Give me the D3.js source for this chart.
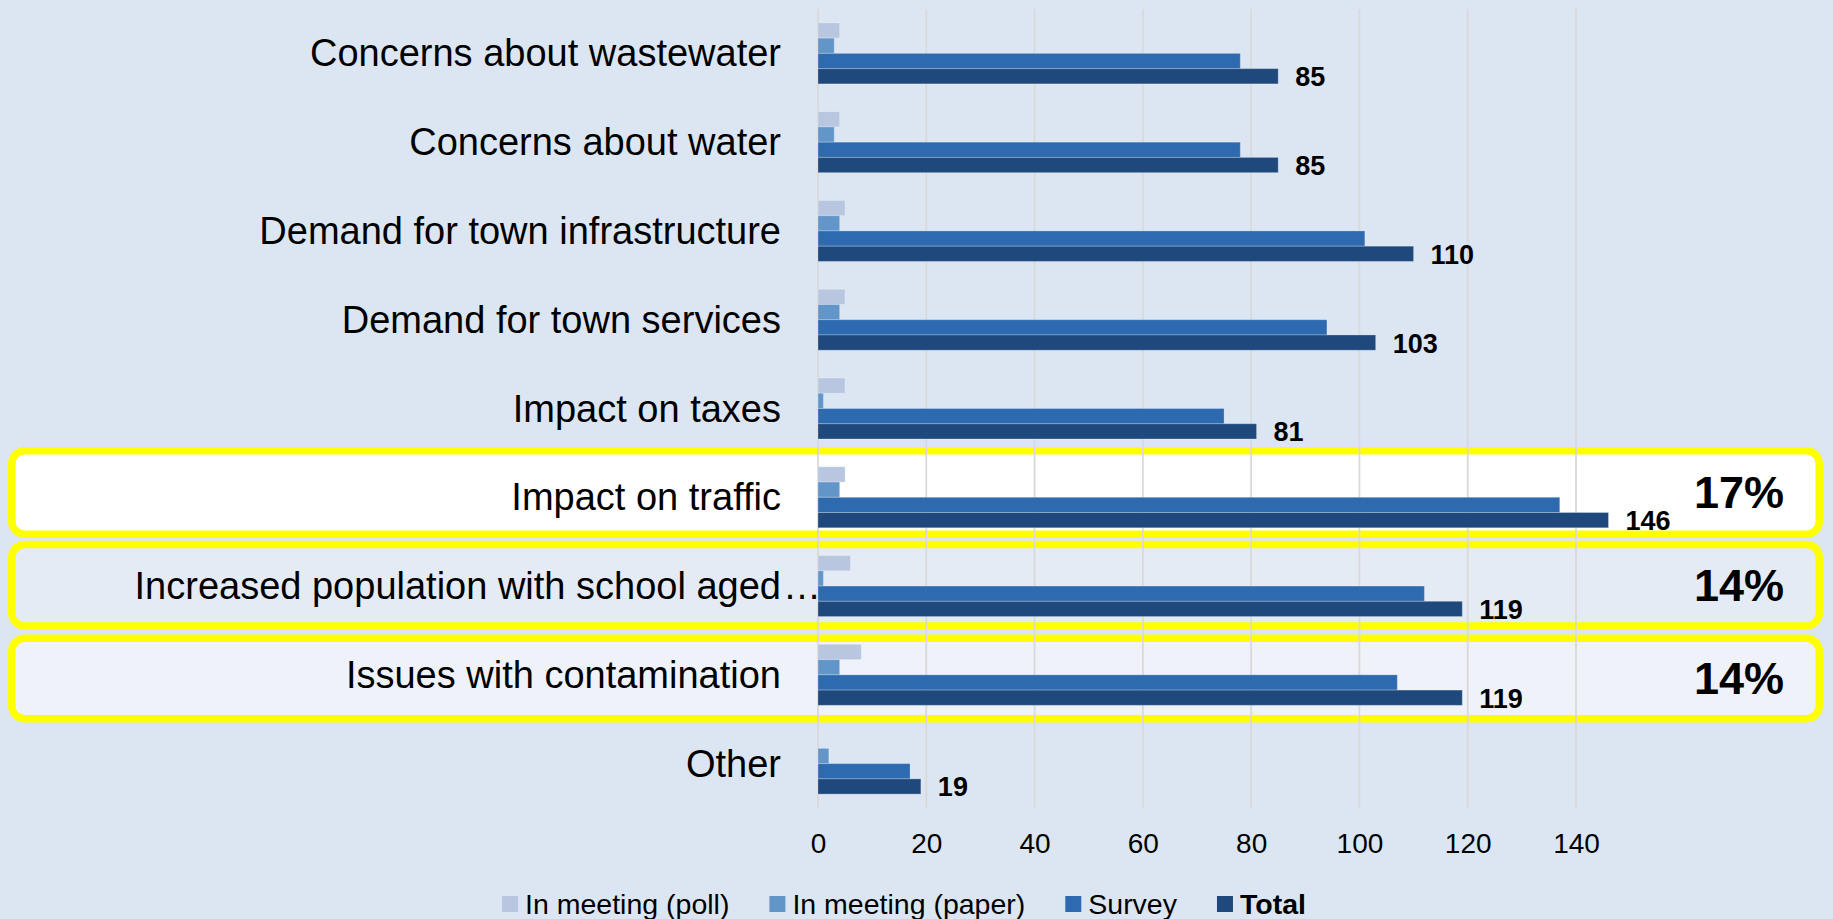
<!DOCTYPE html>
<html>
<head>
<meta charset="utf-8">
<script src="https://cdn.jsdelivr.net/npm/d3@7"></script>
<style>
  html, body { margin: 0; padding: 0; background: #dce6f2; }
  svg { display: block; }
  text { font-family: "Liberation Sans", Arial, sans-serif; }
</style>
</head>
<body>
<svg id="chart" width="1833" height="919"></svg>
<script>
// ---------- data ----------
const categories = [
  "Concerns about wastewater",
  "Concerns about water",
  "Demand for town infrastructure",
  "Demand for town services",
  "Impact on taxes",
  "Impact on traffic",
  "Increased population with school aged…",
  "Issues with contamination",
  "Other"
];
const seriesNames = ["In meeting (poll)", "In meeting (paper)", "Survey", "Total"];
const pollValues   = [4, 4, 5, 5, 5, 5, 6, 8, 0];
const paperValues  = [3, 3, 4, 4, 1, 4, 1, 4, 2];
const surveyValues = [78, 78, 101, 94, 75, 137, 112, 107, 17];
const totalValues  = [85, 85, 110, 103, 81, 146, 119, 119, 19];
const xTickValues  = [0, 20, 40, 60, 80, 100, 120, 140];
const highlightCategories = ["Impact on traffic", "Increased population with school aged…", "Issues with contamination"];
const highlightPercents   = ["17%", "14%", "14%"];

// ---------- styles ----------
const seriesColors = ["#b8c6e0", "#6396c8", "#2e6ab0", "#1f497d"];
const highlightFills = ["#ffffff", "#e5ebf5", "#eff3f9"];
const highlightAdjust = [[-6, 91], [-1, 89], [4, 88]]; // top offset, outer height

const svg = d3.select("#chart");

const x = d3.scaleLinear().domain([0, 140]).range([818, 1576]);
const y = d3.scaleBand().domain(categories).range([9, 808]).paddingInner(0.313).paddingOuter(0.1565);
const ySub = d3.scaleBand().domain(seriesNames).range([0, y.bandwidth()]);

const seriesValues = [pollValues, paperValues, surveyValues, totalValues];
const step = y.step();
const bandStart = c => y(c) - step * 0.1565;

// ---------- highlight boxes ----------
const boxLayer = svg.append("g");
const sw = 7.5;
highlightCategories.forEach((c, i) => {
  const top = bandStart(c) + highlightAdjust[i][0];
  const h = highlightAdjust[i][1];
  boxLayer.append("rect")
    .attr("x", 8 + sw / 2).attr("y", top + sw / 2)
    .attr("width", 1823 - 8 - sw).attr("height", h - sw)
    .attr("rx", 13).attr("ry", 13)
    .attr("fill", highlightFills[i])
    .attr("stroke", "#ffff00").attr("stroke-width", sw);
  boxLayer.append("text")
    .attr("x", 1784).attr("y", top + h / 2 + 16)
    .attr("text-anchor", "end")
    .attr("font-size", 45).attr("font-weight", "bold")
    .attr("fill", "#000")
    .text(highlightPercents[i]);
});

// ---------- gridlines ----------
const grid = svg.append("g");
grid.selectAll("line").data(xTickValues).join("line")
  .attr("x1", d => x(d)).attr("x2", d => x(d))
  .attr("y1", 9).attr("y2", 808)
  .attr("stroke", "#d9d9d9").attr("stroke-width", 1.8);

// ---------- x axis ----------
const xAxis = d3.axisBottom(x).tickValues(xTickValues).tickSize(0).tickPadding(0);
const ax = svg.append("g").attr("transform", "translate(0,853)").call(xAxis);
ax.select(".domain").remove();
ax.selectAll("text")
  .attr("dy", 0).attr("y", 0)
  .attr("font-size", 28).attr("font-family", "Liberation Sans, Arial, sans-serif")
  .attr("fill", "#000");

// ---------- bars ----------
const groups = svg.append("g").selectAll("g").data(categories).join("g")
  .attr("transform", c => `translate(0,${y(c)})`);
groups.each(function (c, ci) {
  const g = d3.select(this);
  seriesNames.forEach((s, si) => {
    const v = seriesValues[si][ci];
    if (v <= 0) return;
    g.append("rect")
      .attr("x", x(0)).attr("y", ySub(s))
      .attr("width", x(v) - x(0)).attr("height", ySub.bandwidth())
      .attr("fill", seriesColors[si])
      .attr("stroke", "rgba(255,255,255,0.25)").attr("stroke-width", 1);
  });
  // data label for total
  g.append("text")
    .attr("x", x(totalValues[ci]) + 17)
    .attr("y", ySub("Total") + ySub.bandwidth() / 2 + 10)
    .attr("font-size", 27).attr("font-weight", "bold").attr("fill", "#000")
    .text(totalValues[ci]);
});

// ---------- category labels ----------
const labelX = 781;
const labels = svg.append("g");
categories.forEach(c => {
  const yy = y(c) + y.bandwidth() / 2 + 13;
  if (c.endsWith("…")) {
    labels.append("text").attr("x", labelX).attr("y", yy)
      .attr("text-anchor", "end").attr("font-size", 38).attr("fill", "#000")
      .text(c.slice(0, -1));
    labels.append("text").attr("x", labelX + 2).attr("y", yy)
      .attr("text-anchor", "start").attr("font-size", 38).attr("fill", "#000")
      .text("…");
  } else {
    labels.append("text").attr("x", labelX).attr("y", yy)
      .attr("text-anchor", "end").attr("font-size", 38).attr("fill", "#000")
      .text(c);
  }
});

// ---------- legend ----------
const legend = svg.append("g");
const items = [];
let lx = 0;
const gap = 40;
seriesNames.forEach((s, i) => {
  const it = legend.append("g");
  it.append("rect").attr("x", 0).attr("y", -8).attr("width", 16).attr("height", 16)
    .attr("fill", seriesColors[i]);
  const t = it.append("text").attr("x", 23).attr("y", 10)
    .attr("font-size", 28.5).attr("fill", "#000")
    .attr("font-weight", s === "Total" ? "bold" : "normal")
    .text(s);
  const w = 23 + t.node().getComputedTextLength();
  items.push({ it, x: lx });
  lx += w + gap;
});
const totalW = lx - gap;
const startX = 904 - totalW / 2;
items.forEach(d => d.it.attr("transform", `translate(${startX + d.x},904)`));
</script>
</body>
</html>
